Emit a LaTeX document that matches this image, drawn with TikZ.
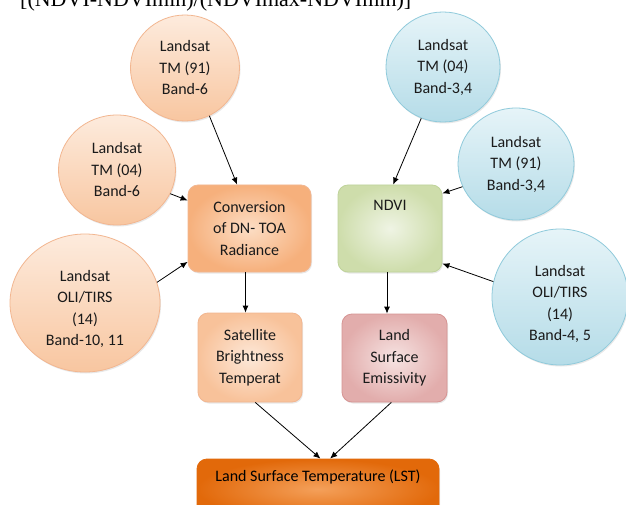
\documentclass[tikz,border=0pt]{standalone}
\usepackage{fontspec}
\setmainfont{Carlito}
\newfontfamily\timesf{Liberation Serif}
\usetikzlibrary{arrows.meta,shapes.geometric,calc,shadows}
\definecolor{txt}{HTML}{1A1A1A}
\definecolor{ocTop}{HTML}{FDEBDD}
\definecolor{ocBot}{HTML}{F8C6A0}
\definecolor{ocLine}{HTML}{F2B690}
\definecolor{bcTop}{HTML}{E6F4F8}
\definecolor{bcBot}{HTML}{B5DCE8}
\definecolor{bcLine}{HTML}{8FCADB}
\definecolor{convIn}{HTML}{FCDDC4}
\definecolor{convOut}{HTML}{F6B07C}
\definecolor{satIn}{HTML}{FDE8D8}
\definecolor{satOut}{HTML}{F8C29A}
\definecolor{lstIn}{HTML}{F4A05A}
\definecolor{lstOut}{HTML}{E2690A}
\definecolor{ndIn}{HTML}{EFF4E4}
\definecolor{ndOut}{HTML}{CEDDAB}
\definecolor{ndLine}{HTML}{BFD39A}
\definecolor{emIn}{HTML}{F6E3E2}
\definecolor{emOut}{HTML}{E2ADAC}
\definecolor{emLine}{HTML}{D69493}
\begin{document}
\begin{tikzpicture}[x=1pt,y=-1pt,
  base/.style={font=\fontsize{16}{21.5}\selectfont, text=txt, align=center, inner sep=0pt},
  shad/.style={drop shadow={opacity=0.18, shadow xshift=1pt, shadow yshift=-1.5pt}},
  ocirc/.style={base, ellipse, draw=ocLine, line width=0.8pt, top color=ocTop, bottom color=ocBot, shad},
  bcirc/.style={base, ellipse, draw=bcLine, line width=0.8pt, top color=bcTop, bottom color=bcBot, shad},
  boxx/.style={base, rectangle, rounded corners=10pt, line width=0.8pt, shad},
  arr/.style={-{Latex[length=7pt,width=6pt]}, line width=0.8pt, black}]
\useasboundingbox (0,0) rectangle (626,505);
\fill[white] (0,0) rectangle (626,505);

% top (clipped) formula
\node[anchor=base west, inner sep=0pt, font=\timesf\fontsize{22}{22}\selectfont] (eq) at (20,7) {[(NDVI-NDVImin)/(NDVImax-NDVImin)]};

% orange circles
\node[ocirc, minimum width=109pt, minimum height=106pt] (c1) at (185,68) {Landsat\\TM (91)\\Band-6};
\node[ocirc, minimum width=117pt, minimum height=110pt] (c2) at (117,170) {Landsat\\TM (04)\\Band-6};
\node[ocirc, minimum width=150pt, minimum height=138pt,
  label={[base, anchor=center, yshift=-6pt]center:Landsat\\OLI/TIRS\\(14)\\Band-10, 11}] (c3) at (85,303) {};

% blue circles
\node[bcirc, minimum width=114pt, minimum height=110pt] (b1) at (443,67) {Landsat\\TM (04)\\Band-3,4};
\node[bcirc, minimum width=116pt, minimum height=112pt] (b2) at (516,164) {Landsat\\TM (91)\\Band-3,4};
\node[bcirc, minimum width=136pt, minimum height=136pt,
  label={[base, anchor=center, yshift=-7pt]center:Landsat\\OLI/TIRS\\(14)\\Band-4, 5}] (b3) at (560,297) {};

% boxes
\node[boxx, draw=ocLine, inner color=convIn, outer color=convOut, minimum width=123pt, minimum height=87pt] (conv) at (249.5,228.5) {Conversion\\of DN- TOA\\Radiance};
\node[boxx, draw=ocLine, inner color=satIn, outer color=satOut, minimum width=104pt, minimum height=89pt] (sat) at (250,357.5) {Satellite\\Brightness\\Temperat};
\node[boxx, draw=ndLine, inner color=ndIn, outer color=ndOut, minimum width=104pt, minimum height=87pt,
  label={[base, anchor=center, yshift=23.5pt]center:NDVI}] (ndvi) at (390,228.5) {};
\node[boxx, draw=emLine, inner color=emIn, outer color=emOut, minimum width=105pt, minimum height=88pt] (emis) at (394.5,358) {Land\\Surface\\Emissivity};
\node[boxx, draw=lstOut, inner color=lstIn, outer color=lstOut, minimum width=242pt, minimum height=60pt,
  label={[base, text=black, anchor=center, yshift=12pt]center:Land Surface Temperature (LST)}] (lst) at (318,489) {};

% connectors
\draw[arr] (c1.297) -- ($(conv.north west)!0.4!(conv.north east)$);
\draw[arr] (c2.336) -- ($(conv.north west)!0.18!(conv.south west)$);
\draw[arr] (c3.16) -- ($(conv.north west)!0.88!(conv.south west)$);
\draw[arr] ([xshift=-4pt]conv.south) -- ([xshift=-4pt]conv.south |- sat.north);
\draw[arr] ($(sat.south west)!0.55!(sat.south east)$) -- ($(lst.north west)!0.51!(lst.north east)$);
\draw[arr] ($(emis.south west)!0.47!(emis.south east)$) -- ($(lst.north west)!0.55!(lst.north east)$);
\draw[arr] (b1.247) -- ($(ndvi.north west)!0.53!(ndvi.north east)$);
\draw[arr] (b2.203) -- ($(ndvi.north east)!0.1!(ndvi.south east)$);
\draw[arr] (b3.167) -- ($(ndvi.north east)!0.9!(ndvi.south east)$);
\draw[arr] ([xshift=-3pt]ndvi.south) -- ([xshift=-3pt]ndvi.south |- emis.north);
\end{tikzpicture}
\end{document}
